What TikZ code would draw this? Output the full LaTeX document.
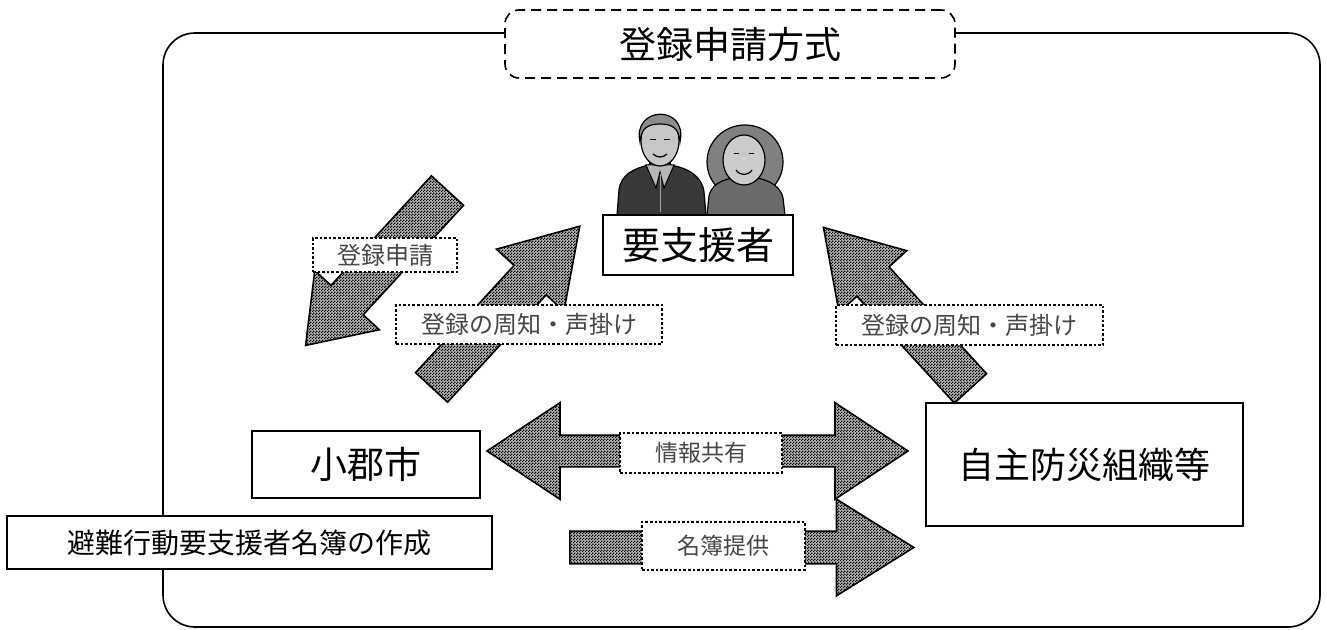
\documentclass[tikz,border=0pt]{standalone}
\usepackage{fontspec}
\setmainfont{Noto Sans CJK JP}
\usetikzlibrary{shapes.arrows, patterns, positioning}

% fine black/white checker used inside the block arrows
\pgfdeclarepatternformonly{checker}{\pgfpointorigin}{\pgfqpoint{1.5pt}{1.5pt}}{\pgfqpoint{1.5pt}{1.5pt}}{%
  \pgfpathrectangle{\pgfpointorigin}{\pgfqpoint{0.75pt}{0.75pt}}%
  \pgfpathrectangle{\pgfqpoint{0.75pt}{0.75pt}}{\pgfqpoint{0.75pt}{0.75pt}}%
  \pgfusepath{fill}}

\newcommand{\fsz}[1]{\fontsize{#1}{#1}\selectfont}

\begin{document}
\begin{tikzpicture}[
  x=0.5pt, y=-0.5pt,
  every node/.style={font=\fsz{12pt}},
  box/.style={rectangle, draw=black, line width=1pt, fill=white, inner sep=0pt, align=center},
  titlebox/.style={rectangle, draw=black, line width=0.8pt, dash pattern=on 5pt off 3pt, rounded corners=7pt, fill=white, inner sep=0pt},
  tag/.style={rectangle, draw=black, line width=1.3pt, densely dotted, fill=white, text=black!72, inner sep=0pt},
  % shaft width = 2 x inner ysep, head = shaft + 2 x head extend
  bigarrow/.style={single arrow, draw=black, line width=0.8pt, preaction={fill=black!30}, pattern=checker, anchor=tail,
    inner xsep=0pt, inner ysep=10.5pt, minimum width=0pt, single arrow head extend=12pt, single arrow tip angle=64},
  twoway/.style={double arrow, draw=black, line width=0.8pt, preaction={fill=black!30}, pattern=checker,
    inner xsep=0pt, inner ysep=7.5pt, minimum width=0pt, double arrow head extend=16.25pt, double arrow tip angle=67}
]
\useasboundingbox (0,0) rectangle (1327,630);

% outer frame
\draw[line width=0.8pt, rounded corners=16pt] (163,33) rectangle (1320,627);

% title
\node[titlebox, minimum width=225pt, minimum height=34pt, font=\fsz{18.5pt}] (title) at (730,44) {登録申請方式};

% the two elderly people
\filldraw[fill=black!50, line width=0.6pt] (745,162) ellipse [x radius=38, y radius=37];
\filldraw[fill=black!58, line width=0.6pt] (707,215) -- (709,196) .. controls (712,181) and (730,177) .. (745,177)
  .. controls (762,177) and (780,183) .. (783,198) -- (785,215) -- cycle;
\filldraw[fill=black!20, line width=0.6pt] (744,160) ellipse [x radius=21, y radius=25];
\draw[line width=0.5pt] (734,154) -- (739,154) (749,154) -- (754,154);
\draw[line width=0.6pt] (736,170) .. controls (740,176) and (748,176) .. (752,170);
\filldraw[fill=black!78, line width=0.6pt] (617,215) -- (619,190) .. controls (621,174) and (634,169) .. (648,165)
  -- (670,165) .. controls (688,168) and (702,176) .. (704,192) -- (706,215) -- cycle;
\filldraw[fill=black!20, line width=0.6pt] (650,148) rectangle (670,168);
\filldraw[fill=black!28, line width=0.5pt] (646,165) -- (656,188) -- (660,172) -- (664,188) -- (674,165) -- cycle;
\draw[line width=0.5pt, black!35] (660,174) -- (660,212);
\filldraw[fill=black!22, line width=0.6pt] (660,141) ellipse [x radius=19, y radius=25];
\filldraw[fill=black!45, line width=0.6pt] (640,142) .. controls (632,106) and (688,104) .. (680,142)
  .. controls (679,128) and (672,124) .. (660,124) .. controls (648,124) and (641,128) .. cycle;
\draw[line width=0.5pt] (650,140) -- (656,140) (664,140) -- (670,140);
\draw[line width=0.6pt] (653,154) .. controls (657,158) and (663,158) .. (667,154);

% block arrows
\node[bigarrow, rotate=227.5, minimum height=105pt, single arrow head extend=11pt, single arrow tip angle=71] (apply) at (448,190) {};
\node[bigarrow, rotate=47.4, minimum height=109.5pt] (notifyL) at (431,388) {};
\node[bigarrow, rotate=132.4, minimum height=109pt] (notifyR) at (971,389) {};
\node[twoway, minimum height=210.5pt] (share) at (697.5,451) {};
\node[bigarrow, minimum height=172pt, inner ysep=7.75pt, single arrow head extend=16pt] (provide) at (569,547.5) {};

% boxes
\node[box, minimum width=95pt, minimum height=30pt, font=\fsz{19pt}] (needs) at (698,245) {要支援者};
\node[box, minimum width=114pt, minimum height=33.5pt, font=\fsz{18.5pt}] (city) at (366,464.5) {小郡市};
\node[box, minimum width=242.5pt, minimum height=26.5pt, font=\fsz{14pt}] (meibo) at (249.5,542.5) {避難行動要支援者名簿の作成};
\node[box, minimum width=158.5pt, minimum height=61.5pt, font=\fsz{18pt}] (jishu) at (1084.5,464.5) {自主防災組織等};

% labels on the arrows
\node[tag, minimum width=72pt, minimum height=17pt] (tApply) at (385,255) {登録申請};
\node[tag, minimum width=133pt, minimum height=19.5pt] (tNotifyL) at (529,324.5) {登録の周知・声掛け};
\node[tag, minimum width=133.5pt, minimum height=20pt] (tNotifyR) at (969.5,325) {登録の周知・声掛け};
\node[tag, minimum width=81pt, minimum height=20pt, font=\fsz{11.5pt}] (tShare) at (701,453) {情報共有};
\node[tag, minimum width=81.5pt, minimum height=24pt, font=\fsz{11.5pt}] (tProvide) at (723.5,546) {名簿提供};

\end{tikzpicture}
\end{document}
